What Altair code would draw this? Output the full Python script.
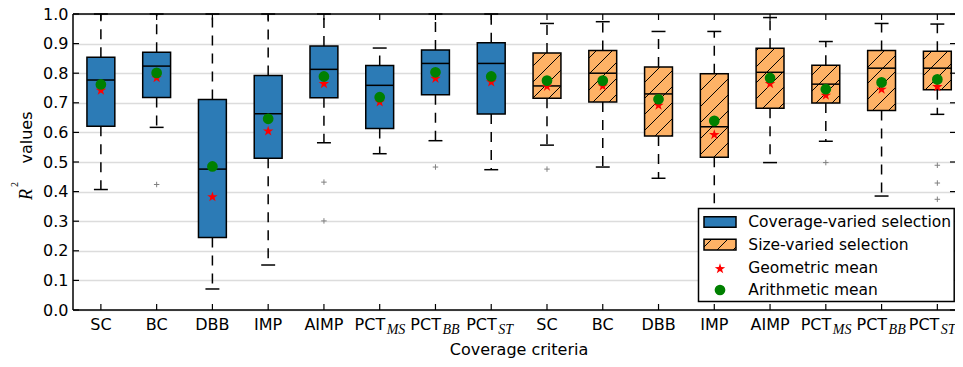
import math
import altair as alt
import pandas as pd

# ---------------- data ----------------
criteria = ["SC", "BC", "DBB", "IMP", "AIMP", "PCT_MS", "PCT_BB", "PCT_ST"]
label_main = ["SC", "BC", "DBB", "IMP", "AIMP", "PCT", "PCT", "PCT"]
label_sub = ["", "", "", "", "", "MS", "BB", "ST"]
groups = ["Coverage-varied selection", "Size-varied selection"]

cov_q1 = [0.621, 0.718, 0.245, 0.513, 0.717, 0.613, 0.727, 0.662]
cov_med = [0.777, 0.824, 0.476, 0.663, 0.813, 0.759, 0.833, 0.833]
cov_q3 = [0.854, 0.871, 0.711, 0.792, 0.892, 0.826, 0.878, 0.903]
cov_lo = [0.407, 0.617, 0.071, 0.152, 0.565, 0.528, 0.572, 0.474]
cov_hi = [1.0, 1.0, 1.0, 1.0, 1.0, 0.885, 1.0, 1.0]
cov_geo = [0.744, 0.786, 0.384, 0.606, 0.766, 0.704, 0.784, 0.772]
cov_arith = [0.762, 0.801, 0.485, 0.646, 0.789, 0.719, 0.803, 0.789]
cov_out = [[], [0.424], [], [], [0.432, 0.301], [], [0.483], []]

size_q1 = [0.715, 0.703, 0.588, 0.516, 0.682, 0.699, 0.674, 0.744]
size_med = [0.757, 0.800, 0.730, 0.619, 0.803, 0.763, 0.817, 0.817]
size_q3 = [0.868, 0.877, 0.821, 0.798, 0.884, 0.827, 0.877, 0.874]
size_lo = [0.557, 0.483, 0.445, 0.25, 0.498, 0.570, 0.385, 0.661]
size_hi = [0.968, 0.974, 0.941, 0.941, 0.988, 0.907, 0.968, 0.966]
size_geo = [0.757, 0.758, 0.693, 0.594, 0.766, 0.727, 0.747, 0.756]
size_arith = [0.775, 0.775, 0.712, 0.639, 0.784, 0.746, 0.769, 0.779]
size_out = [[0.476], [], [], [], [], [0.498], [], [0.489, 0.429, 0.374]]

y_ticks = [round(i * 0.1, 1) for i in range(11)]

# ---------------- layout / style ----------------
W, H = 882, 296
TOP, LEFT, BOTTOM = 6, 65, 49
PXU = 55.764                      # pixels per category step
XMIN = 0.5
XMAX = XMIN + W / PXU
BLUE = "#2c7bb6"
ORANGE = "#feb266"
FONT = "DejaVu Sans"
SERIF = "Liberation Serif"
OY = 8 + TOP   # page y of plot top
OX = 8 + LEFT  # page x of plot left

# five-pointed star symbol path (unit box)
_pts = []
for k in range(10):
    rad = 1.0 if k % 2 == 0 else 0.39
    ang = math.radians(-90 + 36 * k)
    _pts.append(f"{rad * math.cos(ang):.3f},{rad * math.sin(ang) + 0.1:.3f}")
STAR = "M" + "L".join(_pts) + "Z"

rows, outs = [], []
series = [
    (groups[0], cov_q1, cov_med, cov_q3, cov_lo, cov_hi, cov_geo, cov_arith, cov_out, 1),
    (groups[1], size_q1, size_med, size_q3, size_lo, size_hi, size_geo, size_arith, size_out, 9),
]
for g, q1, med, q3, lo, hi, geo, ar, ol, start in series:
    for i, c in enumerate(criteria):
        p = start + i
        rows.append(dict(group=g, crit=c, pos=p, x0=p - 0.25, x1=p + 0.25,
                         c0=p - 0.125, c1=p + 0.125, q1=q1[i], med=med[i],
                         q3=q3[i], lo=lo[i], hi=hi[i], geo=geo[i], arith=ar[i],
                         main=label_main[i], sub=label_sub[i]))
        for v in ol[i]:
            outs.append(dict(pos=p, val=v))
df = pd.DataFrame(rows)
df_out = pd.DataFrame(outs)
LAST = int(df["pos"].max())


def hatch_segments(L, R, T, B, S=16.0):
    segs = []
    c = math.ceil((L + T) / S) * S
    while c <= R + B:
        a = max(L, c - B)
        b = min(R, c - T)
        if b - a > 0.5:
            segs.append((a, c - a, b, c - b))
        c += S
    return segs


hrows = []
for r in rows:
    if r["group"] != groups[1]:
        continue
    L = (r["x0"] - XMIN) * PXU
    R = (r["x1"] - XMIN) * PXU
    T = (1 - r["q3"]) * H
    B = (1 - r["q1"]) * H
    for a, ya, b, yb in hatch_segments(L, R, T, B):
        hrows.append(dict(hx1=a / PXU + XMIN, hy1=1 - ya / H,
                          hx2=b / PXU + XMIN, hy2=1 - yb / H))
df_hatch = pd.DataFrame(hrows)

xs = alt.Scale(domain=[XMIN, XMAX], nice=False, zero=False)
ys = alt.Scale(domain=[0, 1], nice=False, zero=False)
yax = alt.Axis(values=y_ticks, format=".1f", ticks=False, tickSize=0, domain=False,
               grid=True, gridColor="#dcdcdc", gridWidth=1.5, labelFont=FONT,
               labelFontSize=16, labelColor="black", labelPadding=5, title=None)


def X(f):
    return alt.X(f, type="quantitative", scale=xs, axis=None)


def Y(f):
    return alt.Y(f, type="quantitative", scale=ys, axis=yax)


base = alt.Chart(df)
layers = []

# whiskers
layers.append(base.mark_rule(color="black", strokeWidth=1.5, strokeDash=[10, 8]).encode(
    x=X("pos"), y=Y("q3"), y2="hi"))
layers.append(base.mark_rule(color="black", strokeWidth=1.5, strokeDash=[10, 8]).encode(
    x=X("pos"), y=Y("q1"), y2="lo"))
# boxes
layers.append(base.mark_rect(stroke="black", strokeWidth=1.5, opacity=1).encode(
    x=X("x0"), x2="x1", y=Y("q1"), y2="q3",
    color=alt.Color("group:N", scale=alt.Scale(domain=groups, range=[BLUE, ORANGE]), legend=None)))
# hatch
layers.append(alt.Chart(df_hatch).mark_rule(color="black", strokeWidth=1).encode(
    x=X("hx1"), x2="hx2", y=Y("hy1"), y2="hy2"))
# medians
layers.append(base.mark_rule(color="black", strokeWidth=1.5).encode(
    x=X("x0"), x2="x1", y=Y("med")))
# caps
layers.append(base.mark_rule(color="black", strokeWidth=1.5).encode(
    x=X("c0"), x2="c1", y=Y("hi")))
layers.append(base.mark_rule(color="black", strokeWidth=1.5).encode(
    x=X("c0"), x2="c1", y=Y("lo")))
# outliers
layers.append(alt.Chart(df_out).mark_point(shape="M-1,0L1,0M0,-1L0,1", color="#808080", size=30,
                                           strokeWidth=1, filled=False, opacity=1).encode(
    x=X("pos"), y=Y("val")))
# means
layers.append(base.mark_point(shape=STAR, filled=True, color="red", size=120,
                              opacity=1).encode(x=X("pos"), y=Y("geo")))
layers.append(base.mark_circle(color="green", size=115, opacity=1).encode(
    x=X("pos"), y=Y("arith")))

# frame (left, top, bottom; right spine lies beyond the picture)
one = alt.Chart(pd.DataFrame({"k": [0]}))
layers.append(one.mark_rule(color="black", strokeWidth=1.5).encode(
    x=alt.value(0), y=alt.value(0), y2=alt.value(H)))
layers.append(one.mark_rule(color="black", strokeWidth=1.5).encode(
    x=alt.value(0), x2=alt.value(W), y=alt.value(0)))
layers.append(one.mark_rule(color="black", strokeWidth=1.5).encode(
    x=alt.value(0), x2=alt.value(W), y=alt.value(H)))

# inward ticks
df_yt = pd.DataFrame({"v": y_ticks})
layers.append(alt.Chart(df_yt).mark_rule(color="black", strokeWidth=1.2).encode(
    y=Y("v"), x=alt.value(0), x2=alt.value(6)))
layers.append(alt.Chart(df_yt).mark_rule(color="black", strokeWidth=1.2).encode(
    y=Y("v"), x=alt.value(W - 5), x2=alt.value(W)))
layers.append(base.mark_rule(color="black", strokeWidth=1.2).encode(
    x=X("pos"), y=alt.value(0), y2=alt.value(6)))
layers.append(base.mark_rule(color="black", strokeWidth=1.2).encode(
    x=X("pos"), y=alt.value(H - 6), y2=alt.value(H)))

# x tick labels (page baseline ~330)
LBL_Y = 330 - OY
layers.append(base.transform_filter("datum.sub == ''").mark_text(
    font=FONT, fontSize=16, color="black", align="center", baseline="alphabetic").encode(
    x=X("pos"), y=alt.value(LBL_Y), text="main:N"))
for flt, d_main, d_sub in [(f"datum.sub != '' && datum.pos != {LAST}", 5.5, 7),
                           (f"datum.pos == {LAST}", 2.0, 3.5)]:
    layers.append(base.transform_filter(flt).mark_text(
        font=FONT, fontSize=16, color="black", align="right", baseline="alphabetic",
        dx=d_main).encode(x=X("pos"), y=alt.value(LBL_Y), text="main:N"))
    layers.append(base.transform_filter(flt).mark_text(
        font=SERIF, fontSize=14, fontStyle="italic", color="black", align="left",
        baseline="alphabetic", dx=d_sub, dy=4).encode(
        x=X("pos"), y=alt.value(LBL_Y), text="sub:N"))

# axis titles
layers.append(one.mark_text(text="Coverage criteria", font=FONT, fontSize=16, color="black",
                            align="center", baseline="alphabetic").encode(
    x=alt.value(519 - OX), y=alt.value(355 - OY)))
layers.append(one.mark_text(text="R", font=SERIF, fontSize=18, fontStyle="italic", color="black",
                            align="left", baseline="alphabetic", angle=270).encode(
    x=alt.value(31.7 - OX), y=alt.value(200 - OY)))
layers.append(one.mark_text(text="2", font=SERIF, fontSize=10, color="black",
                            align="left", baseline="alphabetic", angle=270).encode(
    x=alt.value(18 - OX), y=alt.value(187 - OY)))
layers.append(one.mark_text(text="values", font=FONT, fontSize=16, color="black",
                            align="left", baseline="alphabetic", angle=270).encode(
    x=alt.value(31.7 - OX), y=alt.value(163.5 - OY)))

# legend (page coordinates converted to plot coordinates)
layers.append(one.mark_rect(fill="white", stroke="black", strokeWidth=1.5).encode(
    x=alt.value(698.5 - OX), x2=alt.value(954.2 - OX), y=alt.value(208.5 - OY), y2=alt.value(301.5 - OY)))
layers.append(one.mark_rect(fill=BLUE, stroke="black", strokeWidth=1.5).encode(
    x=alt.value(704 - OX), x2=alt.value(736 - OX), y=alt.value(216.7 - OY), y2=alt.value(227.3 - OY)))
layers.append(one.mark_rect(fill=ORANGE, stroke="black", strokeWidth=1.5).encode(
    x=alt.value(704 - OX), x2=alt.value(736 - OX), y=alt.value(239.3 - OY), y2=alt.value(250 - OY)))
for a, ya, b, yb in hatch_segments(704 - OX, 736 - OX, 239.3 - OY, 250 - OY):
    layers.append(one.mark_rule(color="black", strokeWidth=1).encode(
        x=alt.value(a), y=alt.value(ya), x2=alt.value(b), y2=alt.value(yb)))
layers.append(one.mark_point(shape=STAR, filled=True, color="red", size=120,
                             opacity=1).encode(x=alt.value(720 - OX), y=alt.value(268.3 - OY)))
layers.append(one.mark_circle(color="green", size=115, opacity=1).encode(
    x=alt.value(720 - OX), y=alt.value(290 - OY)))
for txt, yy in [(groups[0], 222), (groups[1], 245), ("Geometric mean", 268), ("Arithmetic mean", 290)]:
    layers.append(one.mark_text(text=txt, font=FONT, fontSize=15.5, color="black",
                                align="left", baseline="middle").encode(
        x=alt.value(748.3 - OX), y=alt.value(yy - OY)))

chart = alt.layer(*layers).properties(
    width=W, height=H,
    autosize=alt.AutoSizeParams(type="none"),
    padding={"left": LEFT, "top": TOP, "right": 0, "bottom": BOTTOM},
).configure_view(stroke=None)

chart.save("out.html", embed_options={"renderer": "svg", "actions": False})
